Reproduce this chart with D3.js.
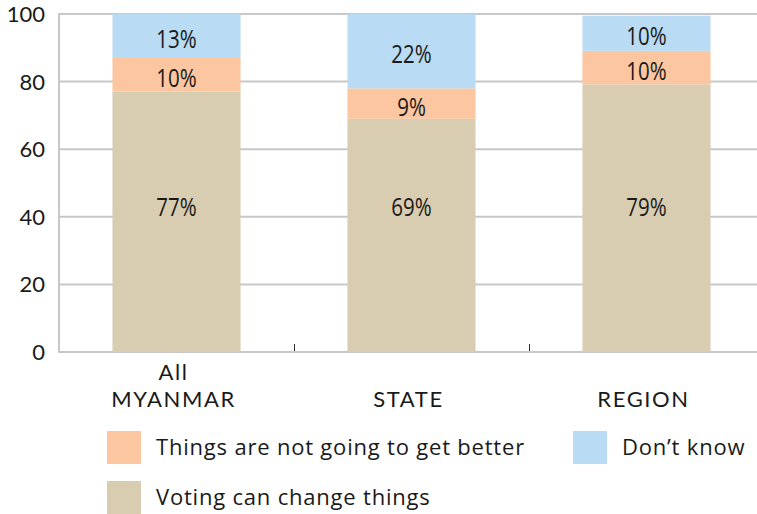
<!DOCTYPE html>
<html><head><meta charset="utf-8">
<script src="https://cdn.jsdelivr.net/npm/d3@7"></script>
<style>html,body{margin:0;padding:0;background:#fff;}svg{display:block;}</style>
</head><body>
<svg id="chart" width="757" height="514"></svg>
<script>
const categories = ["All MYANMAR", "STATE", "REGION"];
const categoryLines = [["All", "MYANMAR"], ["STATE"], ["REGION"]];
const voting = [77, 69, 79.2];
const notBetter = [10, 9, 9.9];
const dontKnow = [13, 22, 10.4];
const seriesNames = ["Voting can change things", "Things are not going to get better", "Don\u2019t know"];
const seriesColors = ["#D8CCB1", "#FCC6A1", "#B9DBF3"];
const yTicks = [0, 20, 40, 60, 80, 100];

const svg = d3.select("#chart");
const x = d3.scaleBand().domain(categories).range([59, 764]).paddingInner(0.455).paddingOuter(0.2275);
const y = d3.scaleLinear().domain([0, 100]).range([352, 14]);
const mainFont = "'Open Sans', Lato, sans-serif";

// gridlines
svg.append("g").selectAll("line").data(yTicks).join("line")
  .attr("x1", 59).attr("x2", 757)
  .attr("y1", d => y(d)).attr("y2", d => y(d))
  .attr("stroke", "#C8C8C8").attr("stroke-width", 2);
svg.append("line").attr("x1", 59).attr("x2", 59).attr("y1", y(100) - 1).attr("y2", y(0) + 1)
  .attr("stroke", "#C8C8C8").attr("stroke-width", 2);

// y tick labels
svg.append("g").selectAll("text").data(yTicks).join("text")
  .attr("x", 45).attr("y", d => y(d) + 8)
  .attr("text-anchor", "end")
  .attr("font-family", "Lato, 'Open Sans', sans-serif").attr("font-size", 22)
  .attr("fill", "#1a1a1a").text(d => d);

// stack
const rows = categories.map((c, i) => ({cat: c, v0: voting[i], v1: notBetter[i], v2: dontKnow[i]}));
const stack = d3.stack().keys(["v0", "v1", "v2"])(rows);

const g = svg.append("g");
stack.forEach((layer, k) => {
  g.selectAll(null).data(layer).join("rect")
    .attr("x", d => x(d.data.cat))
    .attr("width", x.bandwidth())
    .attr("y", d => y(d[1]))
    .attr("height", d => y(d[0]) - y(d[1]))
    .attr("fill", seriesColors[k]);
});
stack.forEach((layer, k) => {
  g.selectAll(null).data(layer).join("text")
    .attr("transform", d => {
      const cx = x(d.data.cat) + x.bandwidth() / 2;
      const cy = k === 0 ? y(43) + 9 : y((d[0] + d[1]) / 2) + 12;
      return `translate(${cx},${cy}) scale(0.82,1)`;
    })
    .attr("text-anchor", "middle")
    .attr("font-family", mainFont)
    .attr("font-size", 25).attr("fill", "#1a1a1a")
    .text(d => Math.round(d[1] - d[0]) + "%");
});

// category boundary ticks
const step = x.step();
const bounds = categories.slice(0, -1).map(c => x(c) + x.bandwidth() + (step - x.bandwidth()) / 2);
svg.append("g").selectAll("line").data(bounds).join("line")
  .attr("x1", d => Math.round(d) + 0.5).attr("x2", d => Math.round(d) + 0.5)
  .attr("y1", 344).attr("y2", 351)
  .attr("stroke", "#333").attr("stroke-width", 1);

// category labels (one text element per line)
categories.forEach((c, i) => {
  const lines = categoryLines[i];
  lines.forEach((ln, j) => {
    svg.append("text")
      .attr("x", x(c) + x.bandwidth() / 2 - 3)
      .attr("y", 407 - (lines.length - 1 - j) * 27)
      .attr("text-anchor", "middle")
      .attr("font-family", "Lato, 'Open Sans', sans-serif").attr("font-size", 22)
      .attr("letter-spacing", 1.6)
      .attr("fill", "#1a1a1a")
      .text(ln);
  });
});

// legend
const legend = [
  {name: seriesNames[1], color: seriesColors[1], x: 107, y: 431},
  {name: seriesNames[2], color: seriesColors[2], x: 573, y: 431},
  {name: seriesNames[0], color: seriesColors[0], x: 107, y: 481}
];
const lg = svg.append("g").selectAll("g").data(legend).join("g");
lg.append("rect").attr("x", d => d.x).attr("y", d => d.y).attr("width", 34).attr("height", 33).attr("fill", d => d.color);
lg.append("text").attr("x", d => d.x + 49).attr("y", d => d.y + 24)
  .attr("font-family", mainFont).attr("font-size", 22)
  .attr("letter-spacing", 0.8)
  .attr("fill", "#1a1a1a").text(d => d.name);
</script>
</body></html>
